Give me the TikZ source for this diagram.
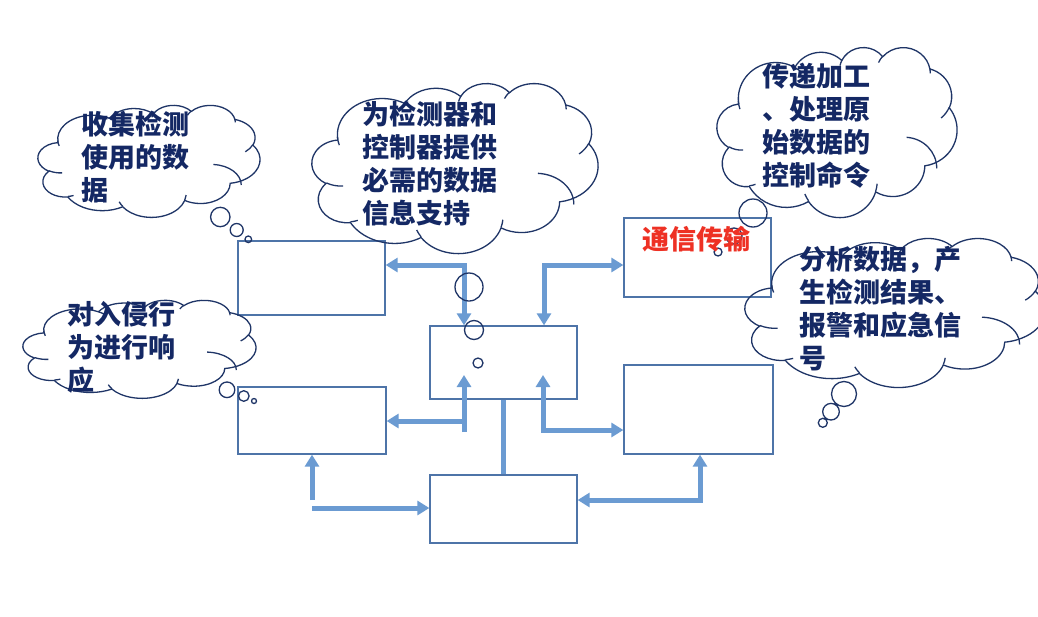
\documentclass[tikz,border=0pt]{standalone}
\usepackage{fontspec}
\newfontfamily\cjk{Noto Sans CJK SC}
\usetikzlibrary{arrows.meta}
\definecolor{navy}{HTML}{142864}
\definecolor{cloudc}{HTML}{1F3567}
\definecolor{boxc}{HTML}{4E74A8}
\definecolor{arrc}{HTML}{6B9BD2}
\definecolor{redt}{HTML}{EE3124}
\newcommand\cldarc[4]{%
  \pgfmathsetmacro\cldA{atan2((#1)*sin(#3),(#2)*cos(#3))}%
  \pgfmathsetmacro\cldB{atan2((#1)*sin((#3)+(#4)),(#2)*cos((#3)+(#4)))}%
  \pgfmathsetmacro\cldD{mod(\cldB-\cldA+720,360)}%
  \global\let\cldA\cldA\global\let\cldD\cldD}
\newcommand\carc[4]{\pgfextra{\cldarc{#1}{#2}{#3}{#4}} arc[x radius=#1, y radius=#2, start angle=\cldA, delta angle=\cldD]}
\newcommand\pcloud[4]{%
  \pgfmathsetmacro\cwx{#3/432}\pgfmathsetmacro\cwy{#4/432}%
  \begin{scope}[shift={(#1,#2)}, x=\cwx pt, y=-\cwy pt]
  \draw[cloudline] (39.00,143.70)
    \carc{67.53}{91.90}{-190.4875}{123.7805}
    \carc{53.33}{72.67}{-144.1024}{89.9452}
    \carc{43.65}{59.45}{-145.8079}{99.7230}
    \carc{48.57}{65.95}{-130.9861}{117.2417}
    \carc{53.33}{72.73}{-78.7089}{109.0269}
    \carc{67.75}{92.20}{-46.2673}{130.2690}
    \carc{57.85}{78.67}{0.6250}{114.0333}
    \carc{67.52}{92.15}{22.4516}{115.1726}
    \carc{77.20}{105.43}{66.2426}{75.7110}
    \carc{43.60}{59.18}{-274.9421}{146.7356}
    \carc{43.45}{59.45}{-246.8285}{152.5189} -- cycle;
  \draw[cloudline] (46.93,261.77) \carc{43.45}{59.45}{86.7420}{26.4295}
    (69.28,348.99) \carc{43.60}{59.18}{73.6105}{11.4475}
    (164.78,390.90) \carc{67.52}{92.15}{137.6242}{14.0811}
    (288.27,347.51) \carc{67.52}{92.15}{6.4533}{15.9984}
    (341.29,229.54) \carc{57.85}{78.67}{-87.3652}{87.9903}
    (417.98,153.54) \carc{53.33}{72.73}{30.3182}{27.7515}
    (383.24,54.26) \carc{48.57}{65.95}{-13.7443}{14.8589}
    (290.78,39.52) \carc{48.57}{65.95}{-149.1815}{18.1954}
    (221.41,47.20) \carc{43.65}{59.45}{-163.4943}{17.6864}
    (140.00,51.92) \carc{67.53}{91.90}{-66.7070}{12.3194}
    (41.27,157.89) \carc{67.53}{91.90}{156.6201}{17.8161};
  \end{scope}}
\tikzset{
  cloudline/.style={draw=cloudc, line width=1.3pt},
  box/.style={draw=boxc, line width=1.3pt, inner sep=0pt},
  arr/.style={draw=arrc, line width=5pt, -{Triangle[length=12pt,width=14pt]}},
  dbl/.style={draw=arrc, line width=5pt, line join=miter, {Triangle[length=12pt,width=14pt]}-{Triangle[length=12pt,width=14pt]}},
  conn/.style={draw=arrc, line width=5pt},
  ctext/.style={anchor=north west, inner sep=0pt, align=left, text=navy, font=\cjk\bfseries\fontsize{27}{33}\selectfont},
}
\begin{document}
\begin{tikzpicture}[x=1pt, y=-1pt]
\useasboundingbox[fill=white] (0,0) rectangle (1038,616);
% boxes
\node[box, minimum width=147pt, minimum height=74pt] (A) at (311.5,278) {};
\node[box, minimum width=148pt, minimum height=67pt] (B) at (312,420.5) {};
\node[box, minimum width=147pt, minimum height=73pt] (C) at (503.5,362.5) {};
\node[box, minimum width=147pt, minimum height=79pt] (D) at (697.5,257.5) {};
\node[box, minimum width=149pt, minimum height=89pt] (E) at (698.5,409.5) {};
\node[box, minimum width=147pt, minimum height=68pt] (F) at (503.5,509) {};
% junction coordinates
\coordinate (j1) at (464,265);
\coordinate (j2) at (544,265);
\coordinate (c3) at (464,375);
\coordinate (j3) at (464,432);
\coordinate (j4) at (466,421);
\coordinate (c4) at (543,375);
\coordinate (j5) at (543,430);
\coordinate (k1) at (312,500);
\coordinate (k2) at (312,508);
\coordinate (k3) at (700,500);
% connectors
\draw[dbl] (A.east |- j1) -- (j1) -- (j1 |- C.north);
\draw[dbl] (D.west |- j2) -- (j2) -- (j2 |- C.north);
\draw[arr] (j3) -- (c3);
\draw[arr] (j4) -- (B.east |- j4);
\draw[dbl] (c4) -- (j5) -- (E.west |- j5);
\draw[conn] (C.south) -- (F.north);
\draw[arr] (k1) -- (B.south);
\draw[arr] (k2) -- (F.west |- k2);
\draw[dbl] (F.east |- k3) -- (k3) -- (k3 |- E.south);
% clouds
\pcloud{38}{105}{222}{112}
\pcloud{312}{83}{286}{170}
\pcloud{717}{47}{240}{170}
\pcloud{745}{238}{300}{149}
\pcloud{23}{300}{233}{98}
% bubbles
\draw[cloudline] (220.3,217) circle[radius=9.7] (236.7,230) circle[radius=6.5] (248.3,239.3) circle[radius=3.3];
\draw[cloudline] (227,389.8) circle[radius=7.8] (243.8,396) circle[radius=5.3] (254,401) circle[radius=2.5];
\draw[cloudline] (469,287) circle[radius=14] (474,330) circle[radius=9.5] (478,363) circle[radius=5];
\draw[cloudline] (753,213) circle[radius=14] (734,236) circle[radius=8] (718,252) circle[radius=4];
\draw[cloudline] (844,394) circle[radius=12.5] (831,411.7) circle[radius=8.3] (822.8,422.8) circle[radius=4.5];
% texts
\node[ctext] (t1) at (81,111) {收集检测\\使用的数\\据};
\node[ctext] (t2) at (362,101) {为检测器和\\控制器提供\\必需的数据\\信息支持};
\node[ctext] (t3) at (762,63) {传递加工\\、处理原\\始数据的\\控制命令};
\node[ctext] (t4) at (799,246) {分析数据，产\\生检测结果、\\报警和应急信\\号};
\node[ctext] (t5) at (67,301) {对入侵行\\为进行响\\应};
\node[ctext, text=redt] (td) at (642,226) {通信传输};
\end{tikzpicture}
\end{document}
